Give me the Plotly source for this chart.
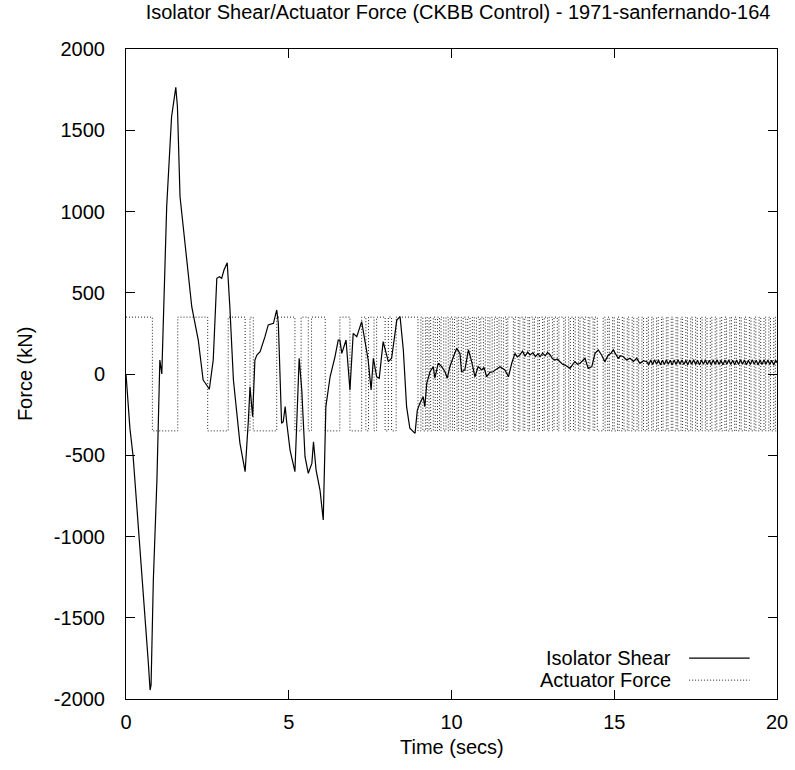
import plotly.graph_objects as go

# Isolator shear (kN)
shear_t = [0.00, 0.05, 0.12, 0.22, 0.33, 0.53, 0.68, 0.74, 0.77, 0.84, 0.95, 1.04, 1.10,
           1.25, 1.40, 1.53, 1.58, 1.66, 1.86, 2.02, 2.22, 2.37, 2.45, 2.56, 2.68, 2.79,
           2.87, 2.94, 3.01, 3.11, 3.19, 3.30, 3.50, 3.66, 3.76, 3.81, 3.89, 3.96, 4.02,
           4.12, 4.27, 4.37, 4.53, 4.63, 4.68, 4.73, 4.78, 4.83, 4.89, 4.94, 5.04, 5.19,
           5.26, 5.32, 5.40, 5.50, 5.60, 5.71, 5.76, 5.84, 5.96, 6.06, 6.14, 6.27, 6.42,
           6.52, 6.57, 6.63, 6.76, 6.88, 6.98, 7.09, 7.24, 7.34, 7.44, 7.53, 7.60, 7.70,
           7.78, 7.90, 7.99, 8.06, 8.16, 8.26, 8.32, 8.42, 8.52, 8.62, 8.72, 8.88, 8.95,
           9.03, 9.13, 9.18, 9.24, 9.34, 9.44, 9.49, 9.59, 9.70, 9.80, 9.87, 9.95, 10.06,
           10.16, 10.26, 10.31, 10.41, 10.52, 10.62, 10.72, 10.82, 10.93, 11.00, 11.08,
           11.18, 11.28, 11.38, 11.49, 11.64, 11.75, 11.85, 11.95, 12.02, 12.10, 12.18,
           12.26, 12.34, 12.41, 12.50, 12.58, 12.66, 12.72, 12.80, 12.88, 12.95, 13.03,
           13.10, 13.18, 13.25, 13.33, 13.41, 13.49, 13.56, 13.64, 13.72, 13.79, 13.87,
           13.95, 14.02, 14.10, 14.20, 14.31, 14.41, 14.51, 14.61, 14.71, 14.82, 14.90,
           14.97, 15.05, 15.12, 15.20, 15.28, 15.38, 15.48, 15.59, 15.69, 15.79, 15.90,
           16.00, 16.06, 16.12, 16.18, 16.24, 16.30, 16.36, 16.42, 16.48, 16.54, 16.60,
           16.66, 16.72, 16.78, 16.84, 16.90, 16.96, 17.02, 17.08, 17.14, 17.20, 17.26,
           17.32, 17.38, 17.44, 17.50, 17.56, 17.62, 17.68, 17.74, 17.80, 17.86, 17.92,
           17.98, 18.04, 18.10, 18.16, 18.22, 18.28, 18.34, 18.40, 18.46, 18.52, 18.58,
           18.64, 18.70, 18.76, 18.82, 18.88, 18.94, 19.00, 19.06, 19.12, 19.18, 19.24,
           19.30, 19.36, 19.42, 19.48, 19.54, 19.60, 19.66, 19.72, 19.78, 19.84, 19.90,
           19.96, 20.00]
shear_f = [0, -120, -334, -509, -794, -1348, -1760, -1945, -1914, -1268, -652, 86, 0,
           1030, 1583, 1764, 1645, 1091, 722, 414, 209, -37, -60, -94, 86, 589,
           599, 589, 640, 685, 414, -37, -425, -601, -283, -78, -263, 86, 117,
           137, 230, 302, 312, 394, 312, 4, -303, -294, -201, -303, -468, -601,
           -263, 97, -98, -509, -611, -550, -417, -591, -714, -898, -201, -17, 106,
           209, 209, 127, 209, -98, 250, 230, 322, 199, 86, -98, 97, -17,
           -26, 199, 127, 76, 97, 230, 332, 353, 148, -201, -334, -365, -222,
           -180, -140, -201, -57, 14, 45, -26, 66, 45, 14, -26, 45, 106,
           158, 127, 14, 25, 148, 76, -17, 45, 25, 40, -17,
           10, 14, 30, 45, 25, -17, 66, 127, 105, 117, 140,
           110, 135, 117, 130, 108, 125, 106, 128, 112, 133, 117,
           95, 86, 92, 76, 60, 55, 48, 35, 58, 76, 60,
           66, 80, 97, 35, 45, 127, 148, 117, 76, 117, 128,
           148, 120, 97, 112, 106, 86, 97, 78, 97, 66, 82,
           76, 56, 86, 58, 88, 60, 86, 56, 84, 58, 87,
           60, 85, 56, 86, 58, 88, 60, 86, 58, 85, 56,
           86, 60, 88, 58, 84, 56, 86, 60, 87, 58, 85,
           56, 86, 60, 88, 58, 84, 56, 86, 60, 87, 58,
           85, 56, 86, 58, 88, 60, 86, 56, 84, 58, 87,
           60, 85, 56, 86, 58, 88, 60, 86, 58, 85, 56,
           84, 70]

# Actuator force: bang-bang between +/-350 kN, switching times (s)
act_level = 350
act_switch = [0.81, 1.59, 2.51, 3.14, 3.66, 3.81, 3.91, 4.63, 5.19, 5.38, 5.60, 5.70,
              6.12, 6.57, 6.88, 7.24, 7.37, 7.45, 7.62, 7.70, 7.96, 8.06, 8.16, 8.30,
              8.97, 9.06, 9.12, 9.20, 9.25, 9.31, 9.36, 9.44, 9.50, 9.57, 9.63, 9.68,
              9.76, 9.83, 9.90, 9.96, 10.03, 10.09, 10.17, 10.22, 10.30, 10.36, 10.44,
              10.50, 10.57, 10.64, 10.70, 10.77, 10.85, 10.90, 10.98, 11.04, 11.12,
              11.18, 11.25, 11.32, 11.40, 11.46, 11.53, 11.60, 11.68, 11.73, 11.90,
              11.95, 12.05, 12.10, 12.20, 12.25, 12.35, 12.40, 12.50, 12.55, 12.65,
              12.70, 12.80, 12.85, 12.95, 13.00, 13.10, 13.15, 13.25, 13.30, 13.45,
              13.50, 13.60, 13.65, 13.75, 13.80, 13.90, 13.95, 14.05, 14.10, 14.20,
              14.25, 14.35, 14.40, 14.48, 14.66, 14.72, 14.80, 14.85, 14.95, 15.00,
              15.10, 15.15, 15.25, 15.30, 15.40, 15.45, 15.55, 15.60, 15.70, 15.75,
              15.85, 15.90, 16.00, 16.05, 16.15, 16.20, 16.30, 16.35, 16.45, 16.50,
              16.60, 16.65, 16.75, 16.80, 16.90, 16.95, 17.05, 17.10, 17.20, 17.25,
              17.35, 17.40, 17.50, 17.55, 17.65, 17.70, 17.80, 17.85, 17.95, 18.00,
              18.10, 18.15, 18.25, 18.30, 18.40, 18.45, 18.55, 18.60, 18.70, 18.75,
              18.85, 18.90, 19.00, 19.05, 19.15, 19.20, 19.30, 19.35, 19.45, 19.50,
              19.60, 19.65, 19.75, 19.80, 19.90, 19.95]
t_end = 20.0

x_ticks = [0, 5, 10, 15, 20]
x_ticktext = ['0', '5', '10', '15', '20']
y_ticks = [-2000, -1500, -1000, -500, 0, 500, 1000, 1500, 2000]
y_ticktext = ['-2000', '-1500', '-1000', '-500', '0', '500', '1000', '1500', '2000']

# step trace for the actuator
act_x, act_y = [0.0], [act_level]
cur = act_level
for s in act_switch:
    act_x += [s, s]
    act_y += [cur, -cur]
    cur = -cur
act_x.append(t_end)
act_y.append(cur)

FONT = 'Liberation Sans, Arial, sans-serif'
fs = 20
DOTTED = dict(color='#222', width=1, dash='1px,2px')

fig = go.Figure()
fig.add_trace(go.Scatter(x=act_x, y=act_y, mode='lines', line=DOTTED,
                         name='Actuator Force', showlegend=False, hoverinfo='skip'))
fig.add_trace(go.Scatter(x=shear_t, y=shear_f, mode='lines',
                         line=dict(color='black', width=1.2),
                         name='Isolator Shear', showlegend=False, hoverinfo='skip'))

axis_common = dict(showgrid=False, zeroline=False, showline=True, linecolor='black',
                   linewidth=1, mirror='ticks', ticks='inside', ticklen=9,
                   tickcolor='black', tickwidth=1, automargin=False,
                   tickfont=dict(family=FONT, size=fs, color='black'))

fig.update_xaxes(range=[0, 20], tickvals=x_ticks, ticktext=x_ticktext,
                 ticklabelstandoff=5, **axis_common)
fig.update_yaxes(range=[-2000, 2000], tickvals=y_ticks, ticktext=y_ticktext,
                 ticklabelstandoff=16, **axis_common)

# gnuplot-like key: text on the left, sample on the right
key = [('Isolator Shear', dict(color='black', width=1.2)),
       ('Actuator Force', DOTTED)]
annotations = [
    dict(text='Force (kN)', xref='paper', yref='paper', x=-0.155, y=0.5,
         textangle=-90, showarrow=False, font=dict(family=FONT, size=fs, color='black'),
         xanchor='center', yanchor='middle'),
    dict(text='Time (secs)', xref='paper', yref='paper', x=0.5, y=-0.074,
         showarrow=False, font=dict(family=FONT, size=fs, color='black'),
         xanchor='center', yanchor='middle'),
]
shapes = []
for i, (label, ln) in enumerate(key):
    yk = 0.063 - i * 0.034
    annotations.append(dict(text=label, xref='paper', yref='paper', x=0.84, y=yk,
                            xanchor='right', yanchor='middle', showarrow=False,
                            font=dict(family=FONT, size=fs, color='black')))
    shapes.append(dict(type='line', xref='paper', yref='paper', x0=0.865, x1=0.958,
                       y0=yk, y1=yk, line=ln))

fig.update_layout(
    width=795, height=770,
    paper_bgcolor='white', plot_bgcolor='white',
    margin=dict(l=126, r=18, t=49, b=71),
    title=dict(text='Isolator Shear/Actuator Force (CKBB Control) - 1971-sanfernando-164',
               x=0.51, xref='paper', xanchor='center', y=0.984, yref='container',
               yanchor='middle', font=dict(family=FONT, size=fs, color='black')),
    annotations=annotations, shapes=shapes,
    showlegend=False, hovermode=False,
)

# drop the default 8px page margin so the figure fills the window
fig.write_html('out.html', config={'displayModeBar': False},
               post_script="document.body.style.margin='0';")
